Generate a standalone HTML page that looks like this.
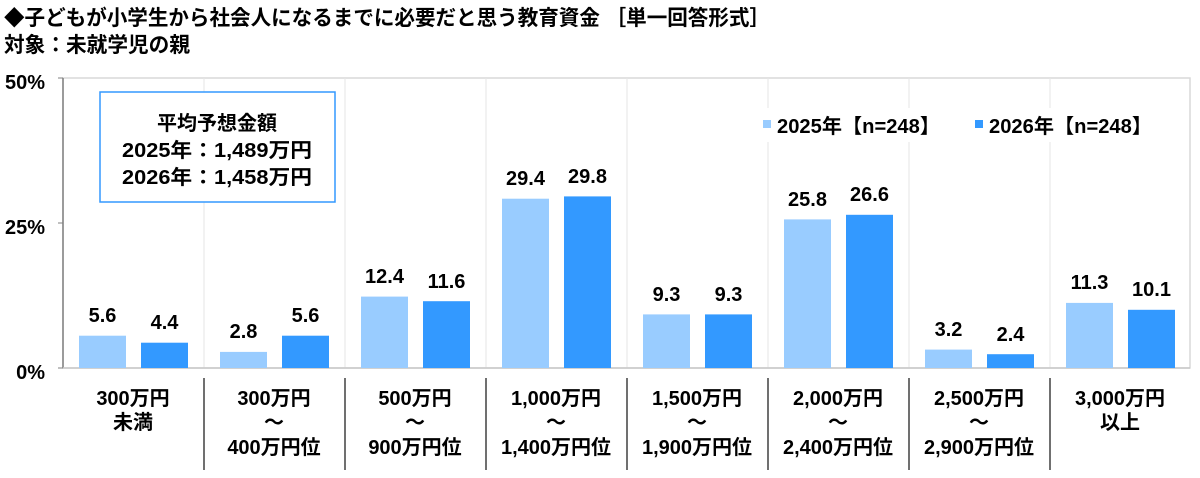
<!DOCTYPE html>
<html><head><meta charset="utf-8"><style>
html,body{margin:0;padding:0;background:#fff;}
svg text{font-family:"Liberation Sans","Noto Sans CJK JP",sans-serif;font-weight:bold;fill:#000;}
</style></head><body>
<svg width="1200" height="473" viewBox="0 0 1200 473" xmlns="http://www.w3.org/2000/svg">
<text x="4" y="25" font-size="21" textLength="766" lengthAdjust="spacingAndGlyphs">◆子どもが小学生から社会人になるまでに必要だと思う教育資金 ［単一回答形式］</text>
<text x="4" y="52" font-size="21" textLength="186" lengthAdjust="spacingAndGlyphs">対象：未就学児の親</text>
<rect x="63" y="78" width="1127" height="290" fill="none" stroke="#d9d9d9" stroke-width="1.5"/>
<g stroke="#e6e6e6" stroke-width="1">
<line x1="204" y1="78" x2="204" y2="368"/><line x1="345" y1="78" x2="345" y2="368"/>
<line x1="486" y1="78" x2="486" y2="368"/><line x1="627" y1="78" x2="627" y2="368"/>
<line x1="768" y1="78" x2="768" y2="368"/><line x1="909" y1="78" x2="909" y2="368"/>
<line x1="1050" y1="78" x2="1050" y2="368"/>
</g>
<line x1="63" y1="78" x2="63" y2="368" stroke="#808080" stroke-width="1.5"/>
<line x1="63" y1="368" x2="1190" y2="368" stroke="#c8c8c8" stroke-width="1.5"/>
<line x1="58" y1="78" x2="63" y2="78" stroke="#808080"/>
<line x1="58" y1="223" x2="63" y2="223" stroke="#808080"/>
<line x1="58" y1="368" x2="63" y2="368" stroke="#808080"/>
<text x="45" y="89" font-size="20" text-anchor="end">50%</text>
<text x="45" y="234" font-size="20" text-anchor="end">25%</text>
<text x="45" y="379" font-size="20" text-anchor="end">0%</text>
<rect x="758" y="108" width="420" height="34" fill="#fff"/>
<rect x="763" y="120" width="8" height="8" fill="#99ccff"/>
<text x="777" y="133" font-size="20" textLength="163" lengthAdjust="spacingAndGlyphs">2025年【n=248】</text>
<rect x="975" y="120" width="8" height="8" fill="#3399ff"/>
<text x="989" y="133" font-size="20" textLength="163" lengthAdjust="spacingAndGlyphs">2026年【n=248】</text>
<rect x="100" y="92" width="235" height="110" fill="#fff" stroke="#3399ff" stroke-width="1.5"/>
<text x="217" y="130" font-size="20" text-anchor="middle">平均予想金額</text>
<text x="217" y="157" font-size="20" text-anchor="middle" textLength="190" lengthAdjust="spacingAndGlyphs">2025年：1,489万円</text>
<text x="217" y="184" font-size="20" text-anchor="middle" textLength="190" lengthAdjust="spacingAndGlyphs">2026年：1,458万円</text>
<g stroke="#404040" stroke-width="1.5">
<line x1="204" y1="378" x2="204" y2="470"/><line x1="345" y1="378" x2="345" y2="470"/>
<line x1="486" y1="378" x2="486" y2="470"/><line x1="627" y1="378" x2="627" y2="470"/>
<line x1="768" y1="378" x2="768" y2="470"/><line x1="909" y1="378" x2="909" y2="470"/>
<line x1="1050" y1="378" x2="1050" y2="470"/>
</g>
<g font-size="20" text-anchor="middle">
<text x="133" y="405">300万円</text><text x="133" y="429">未満</text>
<text x="274" y="405">300万円</text><text x="274" y="429">～</text><text x="274" y="454">400万円位</text>
<text x="415" y="405">500万円</text><text x="415" y="429">～</text><text x="415" y="454">900万円位</text>
<text x="556" y="405">1,000万円</text><text x="556" y="429">～</text><text x="556" y="454">1,400万円位</text>
<text x="697" y="405">1,500万円</text><text x="697" y="429">～</text><text x="697" y="454">1,900万円位</text>
<text x="838" y="405">2,000万円</text><text x="838" y="429">～</text><text x="838" y="454">2,400万円位</text>
<text x="979" y="405">2,500万円</text><text x="979" y="429">～</text><text x="979" y="454">2,900万円位</text>
<text x="1120" y="405">3,000万円</text><text x="1120" y="429">以上</text>
</g>
<g font-size="20" text-anchor="middle">
<rect x="79" y="335.7" width="47" height="32.3" fill="#99ccff"/><text x="102.5" y="322">5.6</text>
<rect x="141" y="342.7" width="47" height="25.3" fill="#3399ff"/><text x="164.5" y="329">4.4</text>
<rect x="220" y="351.9" width="47" height="16.1" fill="#99ccff"/><text x="243.5" y="338">2.8</text>
<rect x="282" y="335.7" width="47" height="32.3" fill="#3399ff"/><text x="305.5" y="322">5.6</text>
<rect x="361" y="296.6" width="47" height="71.4" fill="#99ccff"/><text x="384.5" y="283">12.4</text>
<rect x="423" y="301.2" width="47" height="66.8" fill="#3399ff"/><text x="446.5" y="288">11.6</text>
<rect x="502" y="198.7" width="47" height="169.3" fill="#99ccff"/><text x="525.5" y="185">29.4</text>
<rect x="564" y="196.4" width="47" height="171.6" fill="#3399ff"/><text x="587.5" y="183">29.8</text>
<rect x="643" y="314.4" width="47" height="53.6" fill="#99ccff"/><text x="666.5" y="301">9.3</text>
<rect x="705" y="314.4" width="47" height="53.6" fill="#3399ff"/><text x="728.5" y="301">9.3</text>
<rect x="784" y="219.4" width="47" height="148.6" fill="#99ccff"/><text x="807.5" y="206">25.8</text>
<rect x="846" y="214.8" width="47" height="153.2" fill="#3399ff"/><text x="869.5" y="201">26.6</text>
<rect x="925" y="349.6" width="47" height="18.4" fill="#99ccff"/><text x="948.5" y="336">3.2</text>
<rect x="987" y="354.2" width="47" height="13.8" fill="#3399ff"/><text x="1010.5" y="341">2.4</text>
<rect x="1066" y="302.9" width="47" height="65.1" fill="#99ccff"/><text x="1089.5" y="289">11.3</text>
<rect x="1128" y="309.8" width="47" height="58.2" fill="#3399ff"/><text x="1151.5" y="296">10.1</text>
</g>
</svg>
</body></html>
